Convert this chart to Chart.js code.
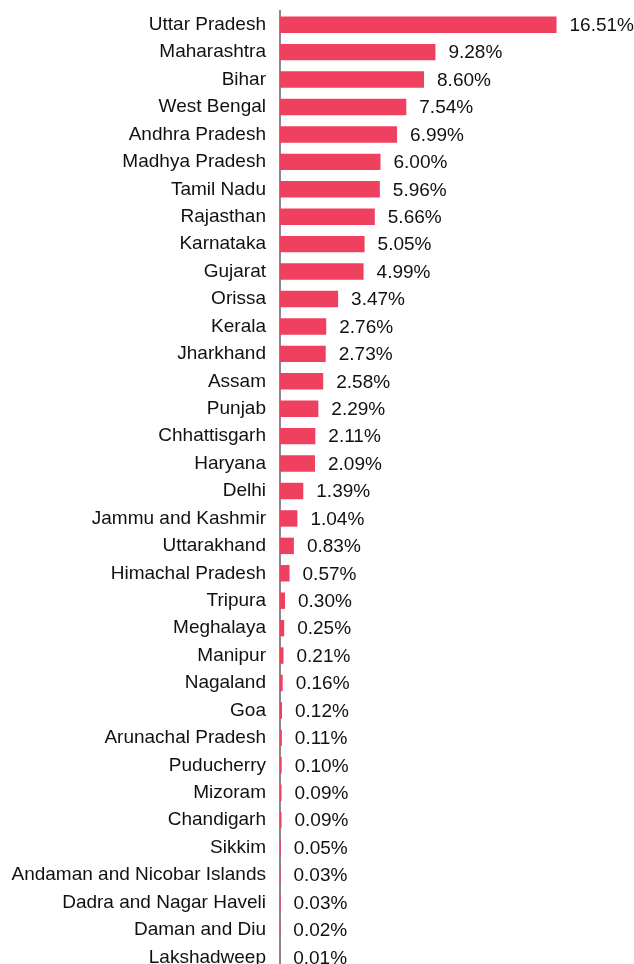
<!DOCTYPE html>
<html>
<head>
<meta charset="utf-8">
<script src="https://cdn.jsdelivr.net/npm/chart.js@4.4.1/dist/chart.umd.min.js"></script>
<style>
  html, body { margin: 0; padding: 0; background: #ffffff; overflow: hidden; }
  #wrap { position: relative; width: 634px; height: 980px; }
</style>
</head>
<body>
<div id="wrap"><canvas id="chart" width="634" height="980"></canvas></div>
<script>
// State share (%) by state / union territory
const states = [
  "Uttar Pradesh", "Maharashtra", "Bihar", "West Bengal", "Andhra Pradesh",
  "Madhya Pradesh", "Tamil Nadu", "Rajasthan", "Karnataka", "Gujarat",
  "Orissa", "Kerala", "Jharkhand", "Assam", "Punjab",
  "Chhattisgarh", "Haryana", "Delhi", "Jammu and Kashmir", "Uttarakhand",
  "Himachal Pradesh", "Tripura", "Meghalaya", "Manipur", "Nagaland",
  "Goa", "Arunachal Pradesh", "Puducherry", "Mizoram", "Chandigarh",
  "Sikkim", "Andaman and Nicobar Islands", "Dadra and Nagar Haveli", "Daman and Diu", "Lakshadweep"
];
const shares = [
  16.51, 9.28, 8.60, 7.54, 6.99,
  6.00, 5.96, 5.66, 5.05, 4.99,
  3.47, 2.76, 2.73, 2.58, 2.29,
  2.11, 2.09, 1.39, 1.04, 0.83,
  0.57, 0.30, 0.25, 0.21, 0.16,
  0.12, 0.11, 0.10, 0.09, 0.09,
  0.05, 0.03, 0.03, 0.02, 0.01
];

const barColor = "#f04060";
const textFont = "'Liberation Sans', Arial, sans-serif";
const fontSize = 19;

// Writes the percentage to the right of each bar
const valueLabels = {
  id: "valueLabels",
  afterDatasetsDraw(chart) {
    const ctx = chart.ctx;
    const meta = chart.getDatasetMeta(0);
    ctx.save();
    ctx.font = fontSize + "px " + textFont;
    ctx.fillStyle = "#111111";
    ctx.textAlign = "left";
    ctx.textBaseline = "middle";
    meta.data.forEach((bar, i) => {
      ctx.fillText(shares[i].toFixed(2) + "%", bar.x + 13, bar.y + 1);
    });
    ctx.restore();
  }
};

new Chart(document.getElementById("chart"), {
  type: "bar",
  data: {
    labels: states,
    datasets: [{
      data: shares,
      backgroundColor: barColor,
      borderWidth: 0,
      barPercentage: 0.6,
      categoryPercentage: 1.0
    }]
  },
  options: {
    indexAxis: "y",
    responsive: false,
    animation: false,
    layout: { padding: { top: 11, bottom: 9, left: 0, right: 19 } },
    plugins: { legend: { display: false }, tooltip: { enabled: false } },
    scales: {
      x: {
        min: 0,
        max: 20,
        display: false
      },
      y: {
        grid: { display: false, drawTicks: false },
        border: { display: true, color: "#8a8a8a", width: 2 },
        ticks: {
          color: "#111111",
          padding: 14,
          font: { family: textFont, size: fontSize }
        },
        afterFit(axis) {
          axis.width = 280;
          axis.paddingTop = 0;
          axis.paddingBottom = 0;
        }
      }
    }
  },
  plugins: [valueLabels]
});
</script>
</body>
</html>
